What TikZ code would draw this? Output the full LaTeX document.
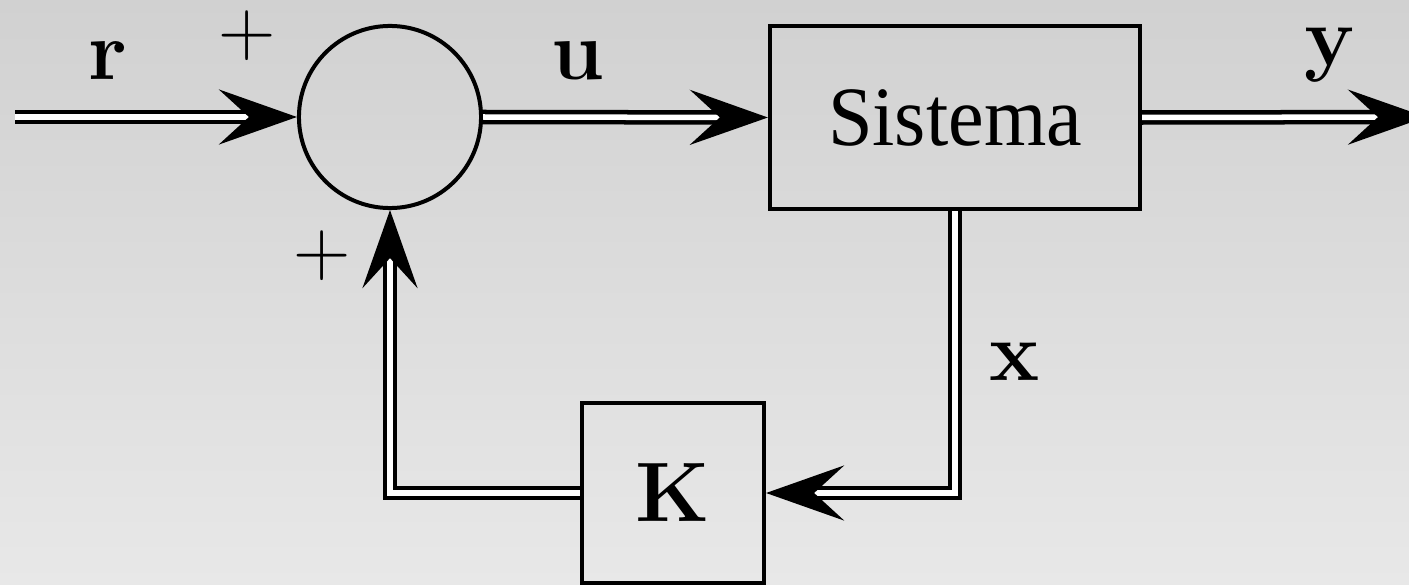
\documentclass[tikz,border=0pt]{standalone}
\usepackage{fontspec}
\newfontfamily\timesfont{Liberation Serif}
\usetikzlibrary{arrows.meta}
\definecolor{bgtop}{RGB}{209,209,209}
\definecolor{bgbot}{RGB}{232,232,232}
\begin{document}
\begin{tikzpicture}[x=0.01cm,y=-0.01cm,
  block/.style={draw,line width=0.04cm,inner sep=0pt},
  signal/.style={double=white,draw=black,line width=0.045cm,double distance=0.055cm,
    -{Stealth[length=0.78cm,width=0.55cm,inset=0.3cm]}},
  lbl/.style={font=\fontsize{24}{28}\selectfont\bfseries,anchor=base,inner sep=0pt},
  sgn/.style={font=\fontsize{22.6}{26}\selectfont,inner sep=0pt}]
  % background
  \shade[top color=bgtop,bottom color=bgbot] (0,0) rectangle (1409,585);
  \useasboundingbox (0,0) rectangle (1409,585);

  % blocks
  \node[block,circle,minimum size=1.82cm] (sum) at (390,117) {};
  \node[block,rectangle,minimum width=3.70cm,minimum height=1.83cm,
        font=\fontsize{24}{28}\selectfont\timesfont] (sys) at (955,117.5)
        {\scalebox{0.95}[1]{Sistema}};
  \node[block,rectangle,minimum width=1.82cm,minimum height=1.80cm,
        font=\fontsize{24}{28}\selectfont\bfseries] (K) at (673,493) {K};

  % free ends
  \coordinate (in) at (15,117);
  \coordinate (out) at (1426,117);

  % signals
  \draw[signal] (in) -- (sum.west);
  \draw[signal] (sum.east) -- (sys.west);
  \draw[signal] (sys.east) -- (out);
  \draw[signal] (sys.south) |- (K.east);
  \draw[signal] (K.west) -| (sum.south);

  % labels
  \node[lbl] (lr) at (108,80) {r};
  \node[lbl] (lu) at (578,80) {u};
  \node[lbl] (ly) at (1330,66) {y};
  \node[lbl] (lx) at (1015,380) {x};
  \node[sgn] (p1) at (247.5,35.5) {+};
  \node[sgn] (p2) at (322,256) {+};
\end{tikzpicture}
\end{document}
